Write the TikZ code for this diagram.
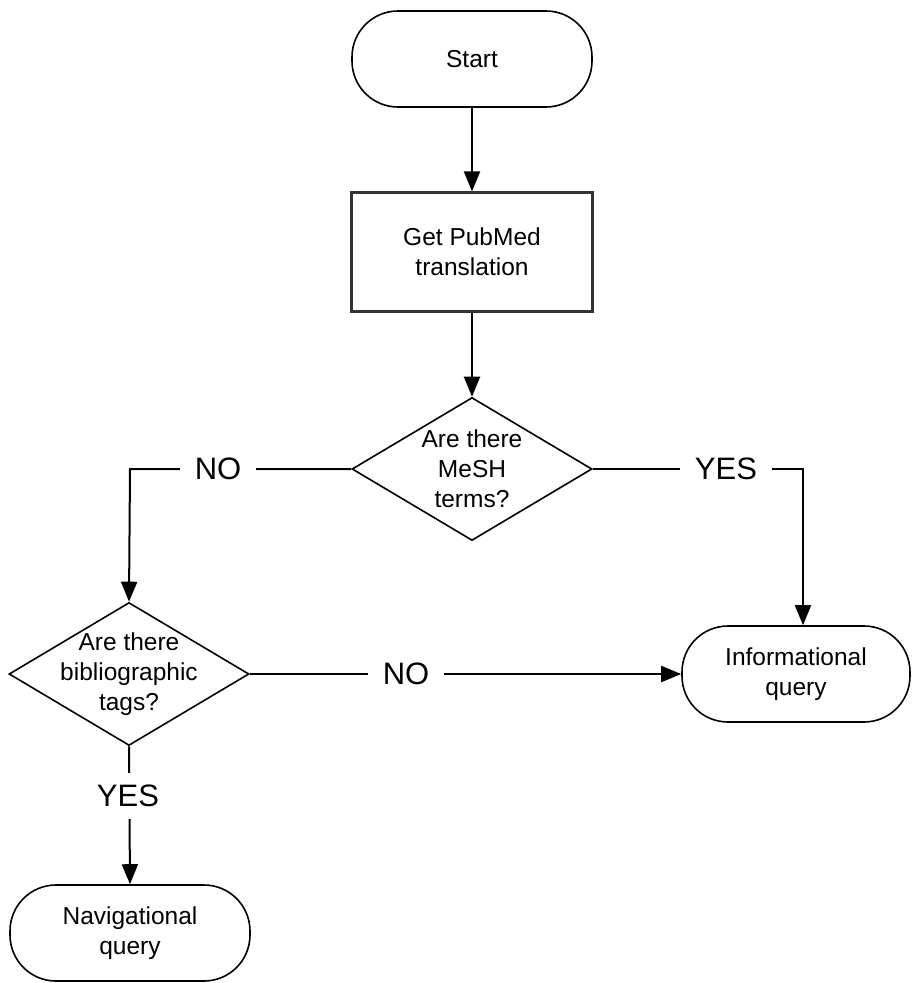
\documentclass[tikz,border=0pt]{standalone}
\usepackage{fontspec}
\setmainfont{Liberation Sans}
\usetikzlibrary{arrows.meta,shapes.geometric}
\begin{document}
\begin{tikzpicture}[x=1pt,y=-1pt,
  every node/.style={font=\fontsize{24.5}{30}\selectfont, align=center},
  term/.style={draw, line width=1.6pt, rounded corners=46pt, minimum width=#1, minimum height=96pt, inner sep=0pt},
  proc/.style={draw, line width=2.2pt, draw=black!80, minimum width=241pt, minimum height=119pt, inner sep=0pt},
  dec/.style={draw, line width=1.6pt, diamond, aspect=1.68, minimum width=240pt, minimum height=143pt, inner sep=0pt},
  lbl/.style={fill=white, font=\fontsize{31}{34}\selectfont, inner xsep=15pt, inner ysep=12pt},
  conn/.style={line width=2pt, -{Triangle[width=16pt,length=20pt]}}]
\useasboundingbox (0,0) rectangle (912,983);
\node[term=240pt] (start) at (472,59) {Start};
\node[proc] (pub) at (472,252) {Get PubMed\\translation};
\node[dec] (mesh) at (472,469) {};
\node at (472,469) {Are there\\MeSH\\terms?};
\node[dec] (bib) at (129,674) {};
\node at (129,674) {Are there\\bibliographic\\tags?};
\node[term=228pt] (info) at (796,674) {Informational\\query};
\node[term=240pt] (nav) at (130,933) {Navigational\\query};
\coordinate (c1) at (130,469);
\coordinate (c2) at (803,469);
\draw[conn] (start.south) -- (pub.north);
\draw[conn] (pub.south) -- (mesh.north);
\draw[conn] (mesh.west) -- (c1) -- (bib.north);
\draw[conn] (mesh.east) -- (c2) -- (info.north -| c2);
\draw[conn] (bib.east) -- (info.west);
\draw[conn] (bib.south) -- (nav.north);
\node[lbl] at (218,469) {NO};
\node[lbl] at (726,469) {YES};
\node[lbl] at (406,674) {NO};
\node[lbl] at (128,796) {YES};
\end{tikzpicture}
\end{document}
